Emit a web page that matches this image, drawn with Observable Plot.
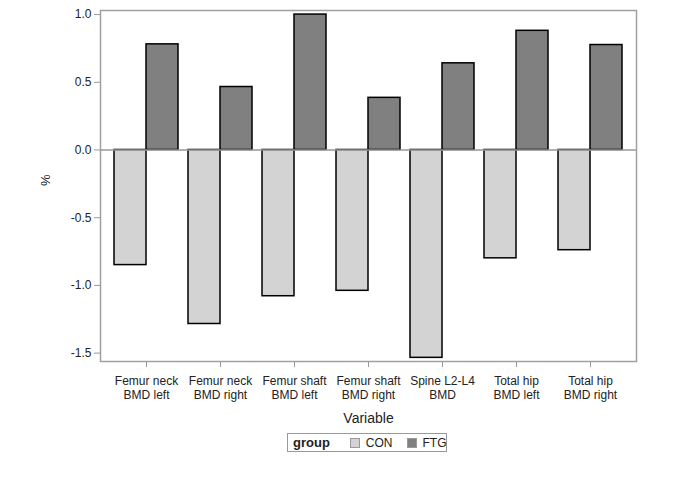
<!DOCTYPE html>
<html>
<head>
<meta charset="utf-8">
<script src="https://cdn.jsdelivr.net/npm/d3@7"></script>
<script src="https://cdn.jsdelivr.net/npm/@observablehq/plot@0.6"></script>
<style>
  html, body { margin: 0; padding: 0; background: #fff; }
  #wrap { position: relative; width: 696px; height: 497px; font-family: 'Liberation Sans', Arial, sans-serif; }
  #legend { position: absolute; left: 287px; top: 433px; width: 158px; height: 17px; border: 1.5px solid #999;
            display: flex; align-items: center; font-size: 12px; color: #222; box-sizing: content-box; white-space: nowrap; }
  #legend span { flex-shrink: 0; display: inline-block; }
  #legend .title { font-weight: bold; margin-left: 5px; margin-right: 20px; font-size: 13px; }
  #legend .sw { width: 8px; height: 8px; border: 1px solid #999; margin-right: 6px; }
  #legend .lab { margin-right: 14px; }
</style>
</head>
<body>
<div id="wrap">
  <div id="chart"></div>
  <div id="legend"></div>
</div>
<script>
const categories = ["Femur neck BMD left", "Femur neck BMD right", "Femur shaft BMD left", "Femur shaft BMD right", "Spine L2-L4 BMD", "Total hip BMD left", "Total hip BMD right"];
const tickLabels = ["Femur neck\nBMD left", "Femur neck\nBMD right", "Femur shaft\nBMD left", "Femur shaft\nBMD right", "Spine L2-L4\nBMD", "Total hip\nBMD left", "Total hip\nBMD right"];
const groups = ["CON", "FTG"];
const conValues = [-0.85, -1.285, -1.08, -1.04, -1.535, -0.8, -0.74];
const ftgValues = [0.78, 0.465, 1.0, 0.385, 0.64, 0.88, 0.775];
const yTicks = [-1.5, -1.0, -0.5, 0.0, 0.5, 1.0];

const groupColors = ["#d3d3d3", "#808080"];
const labelOf = new Map(categories.map((c, i) => [c, tickLabels[i]]));

const data = categories.flatMap((c, i) => [
  {variable: c, group: groups[0], value: conValues[i]},
  {variable: c, group: groups[1], value: ftgValues[i]}
]);

const halfBar = 16;

const chart = Plot.plot({
  width: 696,
  height: 430,
  marginLeft: 100,
  marginRight: 60,
  marginTop: 10,
  marginBottom: 69,
  style: {fontFamily: "'Liberation Sans', Arial, sans-serif", fontSize: "12px", background: "#fff", color: "#222"},
  x: {domain: categories, paddingInner: 0.5714, paddingOuter: 0.3616, axis: null},
  y: {domain: [-1.562, 1.03], axis: null},
  color: {domain: groups, range: groupColors},
  marks: [
    Plot.barY(data.filter(d => d.group === groups[0]), {x: "variable", y: "value", fill: "group", stroke: "black", strokeWidth: 1.5, dx: -halfBar}),
    Plot.barY(data.filter(d => d.group === groups[1]), {x: "variable", y: "value", fill: "group", stroke: "black", strokeWidth: 1.5, dx: halfBar}),
    Plot.ruleY([0], {stroke: "#999", strokeWidth: 1.5}),
    Plot.frame({stroke: "#a0a0a0", strokeWidth: 1.5}),
    Plot.axisY({ticks: yTicks, tickFormat: d => d.toFixed(1), tickSize: 6, tickPadding: 3, stroke: "#999", fill: "#222", label: null}),
    Plot.axisX({tickFormat: d => labelOf.get(d), tickSize: 6, tickPadding: 7, stroke: "#999", fill: "#222", lineHeight: 1.2, label: null}),
    Plot.text(["Variable"], {frameAnchor: "bottom", dy: 61, fontSize: 14, fill: "#222"}),
    Plot.text(["%"], {frameAnchor: "left", dx: -55, rotate: -90, fontSize: 13, fill: "#222"})
  ]
});
document.getElementById("chart").appendChild(chart);

const legend = document.getElementById("legend");
const t = document.createElement("span");
t.className = "title"; t.textContent = "group";
legend.appendChild(t);
groups.forEach((g, i) => {
  const sw = document.createElement("span");
  sw.className = "sw"; sw.style.background = groupColors[i];
  legend.appendChild(sw);
  const lab = document.createElement("span");
  lab.className = "lab"; lab.textContent = g;
  legend.appendChild(lab);
});
</script>
</body>
</html>
